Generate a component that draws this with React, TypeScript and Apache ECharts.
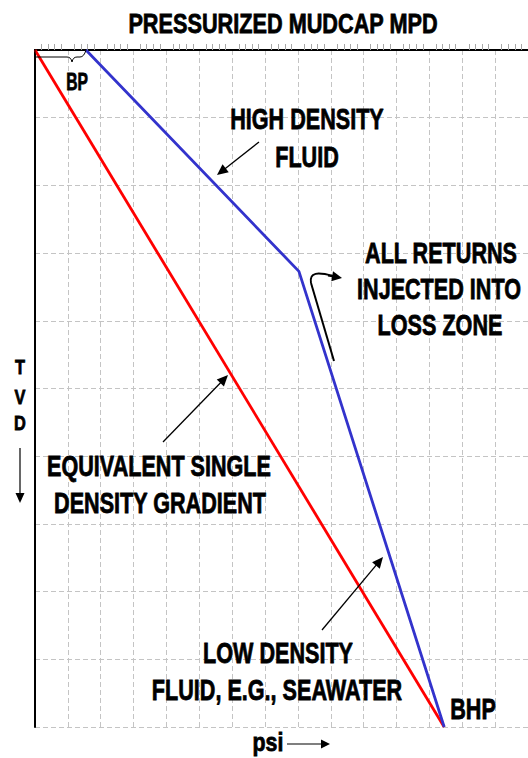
import React, { useEffect, useRef } from "react";
import * as echarts from "echarts";

// ---- data (psi units / TVD units, depth axis inverted) ----
const xTicks = [0, 15, 1];
const yTicks = [0, 10, 1];
const redPsi = [0, 12.45];
const redDepth = [0, 10];
const bluePsi = [1.55, 8.03, 12.45];
const blueDepth = [0, 3.27, 10];

const title = "PRESSURIZED MUDCAP MPD";
const labels: { t: string; x: number; y: number }[] = [
  { t: "HIGH DENSITY", x: 307, y: 119 },
  { t: "FLUID", x: 307, y: 157 },
  { t: "ALL RETURNS", x: 441, y: 253 },
  { t: "INJECTED INTO", x: 439, y: 289 },
  { t: "LOSS ZONE", x: 440, y: 325 },
  { t: "EQUIVALENT SINGLE", x: 159, y: 466 },
  { t: "DENSITY GRADIENT", x: 160, y: 503 },
  { t: "LOW DENSITY", x: 278, y: 653 },
  { t: "FLUID, E.G., SEAWATER", x: 277, y: 690 },
  { t: "BHP", x: 473, y: 709 },
];

const FONT = "'Liberation Sans', Arial, sans-serif";

echarts.graphic.registerShape(
  "brace",
  echarts.graphic.extendPath(
    "M35,50 L35,57 L67,57 Q71,57 72,62 Q73,57 77,57 L80,57 Q84,57 86,50",
    {} as any
  ) as any
);

function zip(a: number[], b: number[]) {
  return a.map((v, i) => [v, b[i]]);
}

function arrow(x1: number, y1: number, x2: number, y2: number, head = 11, half = 5, lw = 1.3) {
  const dx = x2 - x1;
  const dy = y2 - y1;
  const len = Math.sqrt(dx * dx + dy * dy);
  const ux = dx / len;
  const uy = dy / len;
  const bx = x2 - ux * head;
  const by = y2 - uy * head;
  const px = -uy;
  const py = ux;
  return [
    {
      type: "line",
      z: 50,
      shape: { x1, y1, x2: bx + ux * 2, y2: by + uy * 2 },
      style: { stroke: "#000", lineWidth: lw },
    },
    {
      type: "polygon",
      z: 50,
      shape: {
        points: [
          [x2, y2],
          [bx + px * half, by + py * half],
          [bx - px * half, by - py * half],
        ],
      },
      style: { fill: "#000" },
    },
  ];
}

function txt(t: string, x: number, y: number, size = 30, sx = 0.72) {
  return {
    type: "text",
    z: 60,
    x,
    y,
    scaleX: sx,
    style: {
      text: t,
      fill: "#000",
      stroke: "#000",
      lineWidth: 0.8,
      fontFamily: FONT,
      fontWeight: "bold",
      fontSize: size,
      textAlign: "center",
      textVerticalAlign: "middle",
    },
  };
}

export default function App() {
  const ref = useRef<HTMLDivElement>(null);
  useEffect(() => {
    document.body.style.margin = "0";
    const chart = echarts.init(ref.current!, null, { renderer: "svg" });
    const grid = "#c4c4c4";
    chart.setOption({
      animation: false,
      backgroundColor: "#fff",
      grid: { left: 35, top: 50, right: 0, bottom: 31 },
      xAxis: [
        {
          type: "value",
          min: xTicks[0],
          max: xTicks[1],
          interval: xTicks[2],
          position: "bottom",
          axisLine: { show: true, lineStyle: { color: "#000", width: 2 } },
          axisTick: { show: false, inside: true },
          axisLabel: { show: false },
          minorTick: { show: true, splitNumber: 5, length: 6, lineStyle: { color: "#a8a8a8", width: 1 } },
          splitLine: { show: true, lineStyle: { color: grid, width: 1, type: [5, 3] } },
        },
        {
          type: "value",
          min: xTicks[0],
          max: xTicks[1],
          interval: xTicks[2],
          position: "top",
          axisLine: { show: true, lineStyle: { color: "#000", width: 2 } },
          axisTick: { show: false },
          axisLabel: { show: false },
          splitLine: { show: false },
        },
      ],
      yAxis: {
        type: "value",
        inverse: true,
        min: yTicks[0],
        max: yTicks[1],
        interval: yTicks[2],
        axisLine: { show: true, onZero: false, lineStyle: { color: "#000", width: 2 } },
        axisTick: { show: false },
        axisLabel: { show: false },
        splitLine: { show: true, lineStyle: { color: grid, width: 1, type: [5, 3] } },
      },
      series: [
        {
          type: "line",
          name: "Equivalent single density gradient",
          data: zip(redPsi, redDepth),
          symbol: "none",
          lineStyle: { color: "#ff0000", width: 2.8 },
          z: 10,
        },
        {
          type: "line",
          name: "Mudcap",
          data: zip(bluePsi, blueDepth),
          symbol: "none",
          lineStyle: { color: "#3333cc", width: 2.8 },
          z: 11,
        },
      ],
      graphic: [
        txt(title, 283, 23, 28, 0.775),
        ...labels.map((l) => txt(l.t, l.x, l.y)),
        txt("BP", 77, 82, 23, 0.68),
        txt("psi", 268, 742, 26, 0.82),
        txt("T", 20, 367, 21, 0.78),
        txt("V", 20, 397, 21, 0.78),
        txt("D", 20, 423, 21, 0.78),
        {
          type: "brace",
          z: 40,
          style: { stroke: "#000", fill: "none", lineWidth: 1 },
        },
        ...arrow(259, 142, 217, 175),
        ...arrow(163, 442, 228, 375),
        ...arrow(322, 630, 383, 557),
        ...arrow(287, 744, 330, 744, 9, 4.5, 1.2),
        ...arrow(20, 448, 20, 503, 10, 4.5, 1.2),
        {
          type: "polyline",
          z: 50,
          shape: { points: [[334, 361], [311, 283]] },
          style: { stroke: "#000", lineWidth: 2, fill: "none" },
        },
        {
          type: "bezierCurve",
          z: 50,
          shape: { x1: 311, y1: 283, cpx1: 309, cpy1: 272, cpx2: 318, cpy2: 272, x2: 333, y2: 276 },
          style: { stroke: "#000", lineWidth: 2, fill: "none" },
        },
        ...arrow(328, 275.5, 342, 278, 10, 5, 2),
      ],
    });
    return () => chart.dispose();
  }, []);
  return <div ref={ref} style={{ width: 528, height: 758, position: "absolute", left: 0, top: 0 }} />;
}
